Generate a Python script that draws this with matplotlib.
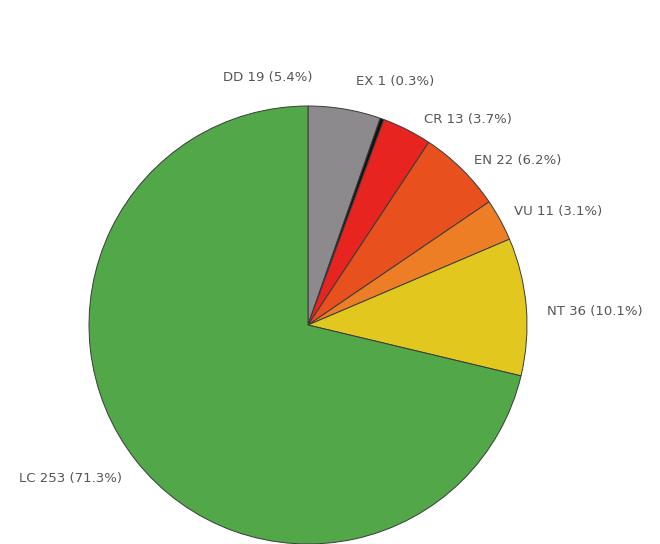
import matplotlib
matplotlib.use("Agg")
import matplotlib.pyplot as plt

# IUCN categories and species counts
cats = ['DD', 'EX', 'CR', 'EN', 'VU', 'NT', 'LC']
counts = [19, 1, 13, 22, 11, 36, 253]
colors = ['#8c8a8c', '#111111', '#e82420', '#e8501e', '#ee7e26', '#e2c81e', '#52a848']

total = sum(counts)
labels = ['%s %d (%.1f%%)' % (c, n, 100.0 * n / total) for c, n in zip(cats, counts)]

# label anchor positions, in units of the pie radius from its centre
label_pos = [(-0.39, 1.13), (0.22, 1.11), (0.53, 0.94), (0.76, 0.75),
             (0.94, 0.52), (1.09, 0.06), (-1.32, -0.70)]

cx, cy, r = 308, 219, 219

fig = plt.figure(figsize=(6.6, 5.44), dpi=100)
ax = fig.add_axes([0, 0, 1, 1])
ax.pie(counts, colors=colors, startangle=90, counterclock=False,
       center=(cx, cy), radius=r,
       wedgeprops=dict(edgecolor='#3a3a3a', linewidth=0.7))
for lab, (px, py) in zip(labels, label_pos):
    ax.text(cx + px * r, cy + py * r, lab, fontsize=9.5, color='#555555',
            ha='left', va='center')
ax.set_xlim(0, 660)
ax.set_ylim(0, 544)
ax.set_aspect('equal')
ax.axis('off')
fig.savefig('out.png', dpi=100, facecolor='white')
